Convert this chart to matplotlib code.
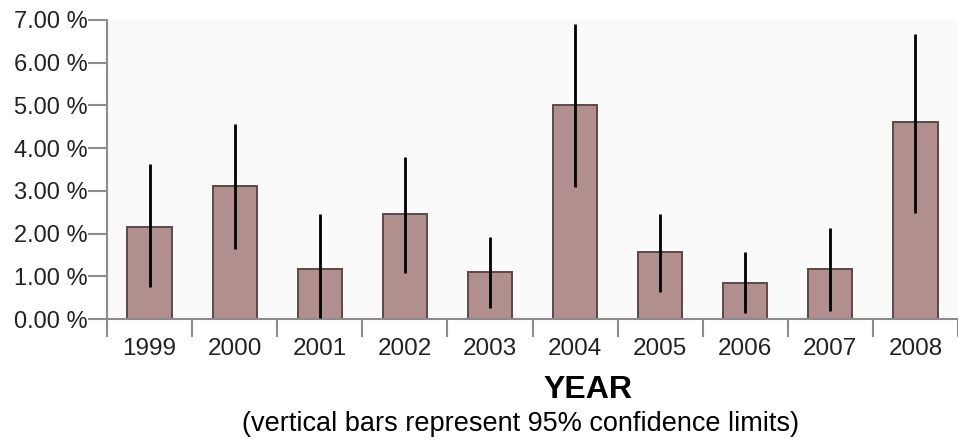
import matplotlib
matplotlib.use("Agg")
import matplotlib.pyplot as plt
import numpy as np

plt.rcParams['font.family'] = ['Liberation Sans', 'DejaVu Sans']

years = ["1999", "2000", "2001", "2002", "2003", "2004", "2005", "2006", "2007", "2008"]
rate = [2.16, 3.11, 1.17, 2.45, 1.11, 5.01, 1.56, 0.85, 1.18, 4.61]
ci_low = [0.76, 1.64, 0.02, 1.08, 0.25, 3.08, 0.64, 0.15, 0.19, 2.47]
ci_high = [3.62, 4.57, 2.46, 3.79, 1.91, 6.91, 2.46, 1.57, 2.12, 6.68]
yticks = [0, 1, 2, 3, 4, 5, 6, 7]

W, H = 958, 441
fig = plt.figure(figsize=(W / 100, H / 100), dpi=100)
ax = fig.add_axes([107 / W, 1 - 319 / H, (958 - 107) / W, (319 - 20) / H])
ax.set_facecolor('#fafafa')

x = np.arange(len(years))
ax.bar(x, rate, width=0.52, color='#b08f8e', edgecolor='#5e4848', linewidth=1.4, zorder=2)
ax.vlines(x, ci_low, ci_high, color='black', linewidth=2.0, zorder=3)

ax.set_ylim(0, 7)
ax.set_xlim(-0.5, -0.5 + 851 / 86.0)
ax.set_yticks(yticks)
ax.set_yticklabels([f"{v:.2f} %" for v in yticks])
ax.set_xticks(x)
ax.set_xticklabels(years)
ax.set_xticks(np.arange(len(years) + 1) - 0.5, minor=True)

for s in ['top', 'right']:
    ax.spines[s].set_visible(False)
for s in ['left', 'bottom']:
    ax.spines[s].set_color('#8c8c8c')
    ax.spines[s].set_linewidth(1.5)

ax.tick_params(axis='y', length=14, width=1.5, color='#8c8c8c', pad=0,
               labelsize=17, labelcolor='#222222')
ax.tick_params(axis='x', which='major', length=0, pad=14, labelsize=17.5, labelcolor='#222222')
ax.tick_params(axis='x', which='minor', length=13, width=1.5, color='#8c8c8c')

fig.text(588 / W, 1 - 390 / H, "YEAR", ha='center', va='center', fontsize=23,
         fontweight='bold', color='black')
fig.text(521 / W, 1 - 424 / H, "(vertical bars represent 95% confidence limits)",
         ha='center', va='center', fontsize=19.5, color='black')

fig.savefig("out.png", dpi=100)
